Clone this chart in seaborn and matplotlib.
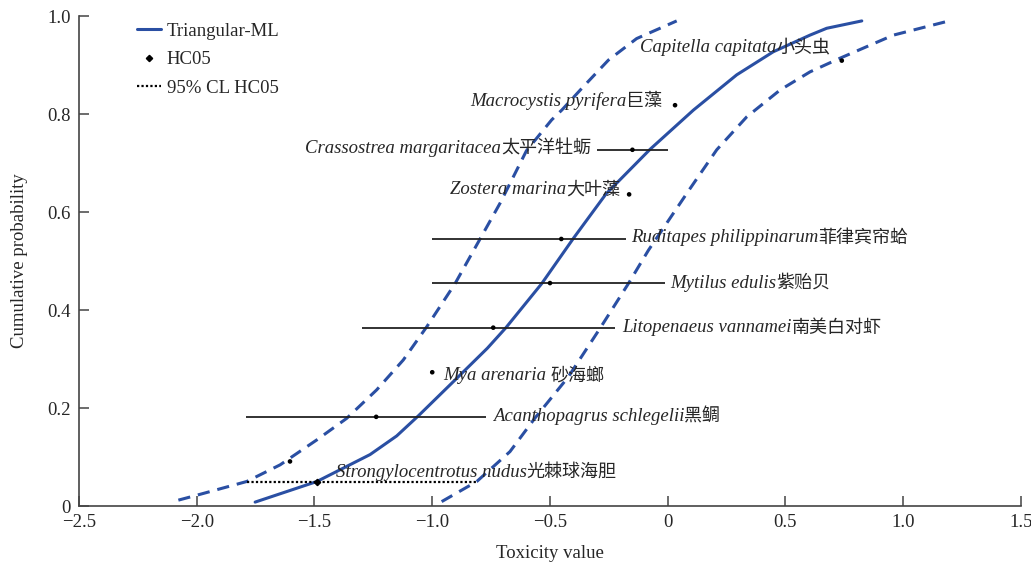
import pandas as pd
import seaborn as sns
import matplotlib.pyplot as plt

sns.set_style("ticks")
plt.rcParams["font.family"] = ["Liberation Serif", "Noto Sans CJK SC"]
plt.rcParams["font.size"] = 13.5

# --- data ---
species = [
    "Strongylocentrotus nudus", "Acanthopagrus schlegelii", "Mya arenaria ",
    "Litopenaeus vannamei", "Mytilus edulis", "Ruditapes philippinarum",
    "Zostera marina", "Crassostrea margaritacea", "Macrocystis pyrifera",
    "Capitella capitata",
]
species_cn = ["光棘球海胆", "黑鲷", "砂海螂", "南美白对虾", "紫贻贝", "菲律宾帘蛤",
              "大叶藻", "太平洋牡蛎", "巨藻", "小头虫"]
toxicity = [-1.604, -1.238, -1.000, -0.741, -0.500, -0.452, -0.164, -0.150, 0.031, 0.739]
cum_prob = [0.091, 0.182, 0.273, 0.364, 0.455, 0.545, 0.636, 0.727, 0.818, 0.909]
ci_low = [None, -1.791, None, -1.299, -1.000, -1.000, None, -0.300, None, None]
ci_high = [None, -0.772, None, -0.224, -0.011, -0.178, None, 0.000, None, None]

# fitted curve (Triangular-ML) and its confidence bands
fit_x = [-1.752, -1.490, -1.264, -1.151, -1.059, -0.910, -0.766, -0.687, -0.535,
         -0.401, -0.262, -0.075, 0.109, 0.293, 0.448, 0.604, 0.675, 0.824]
fit_y = [0.008, 0.050, 0.105, 0.143, 0.184, 0.254, 0.322, 0.364, 0.454,
         0.546, 0.637, 0.728, 0.808, 0.880, 0.927, 0.961, 0.975, 0.990]
lower_x = [-2.078, -2.000, -1.788, -1.646, -1.490, -1.363, -1.236, -1.123, -1.023,
           -0.903, -0.797, -0.712, -0.600, -0.493, -0.450, -0.358, -0.252, -0.132,
           0.038]
lower_y = [0.012, 0.022, 0.050, 0.084, 0.135, 0.179, 0.237, 0.298, 0.366,
           0.454, 0.545, 0.618, 0.725, 0.788, 0.808, 0.856, 0.910, 0.954,
           0.990]
upper_x = [-0.960, -0.811, -0.670, -0.563, -0.423, -0.287, -0.167, -0.082, 0.095,
           0.208, 0.335, 0.477, 0.604, 0.732, 0.958, 1.178]
upper_y = [0.009, 0.050, 0.111, 0.180, 0.263, 0.363, 0.454, 0.522, 0.648,
           0.727, 0.794, 0.849, 0.886, 0.914, 0.961, 0.988]

hc05_x, hc05_y = -1.490, 0.050
hc05_cl = [-1.788, -0.811]

# label anchors (left edge, vertical centre) in data units
label_pos = [(-1.409, 0.069), (-0.742, 0.182), (-0.954, 0.267), (-0.194, 0.364),
             (0.010, 0.455), (-0.156, 0.547), (-0.924, 0.645), (-1.540, 0.729),
             (-0.839, 0.827), (-0.118, 0.935)]

df = pd.DataFrame({"toxicity": toxicity, "cum_prob": cum_prob})
blue = "#2a4fa3"

fig = plt.figure(figsize=(10.31, 5.64), dpi=100)
ax = fig.add_axes([0.0766, 0.1028, 0.9137, 0.8688])

sns.lineplot(x=fit_x, y=fit_y, ax=ax, color=blue, lw=2.2, sort=False,
             estimator=None, label="Triangular-ML")
sns.lineplot(x=lower_x, y=lower_y, ax=ax, color=blue, lw=2.2, sort=False,
             estimator=None, linestyle=(0, (4, 2.6)))
sns.lineplot(x=upper_x, y=upper_y, ax=ax, color=blue, lw=2.2, sort=False,
             estimator=None, linestyle=(0, (4, 2.6)))

for lo, hi, y in zip(ci_low, ci_high, cum_prob):
    if lo is not None:
        ax.hlines(y, lo, hi, color="#222222", lw=1.3, zorder=2)

sns.scatterplot(data=df, x="toxicity", y="cum_prob", ax=ax, color="black",
                s=11, edgecolor="none", zorder=4)
ax.plot([hc05_x], [hc05_y], marker="D", ms=3.2, color="black", ls="none",
        label="HC05", zorder=5)
ax.plot(hc05_cl, [hc05_y, hc05_y], color="black", ls=(0, (1, 1)), lw=1.6,
        label="95% CL HC05", zorder=3)

ax.set_xlim(-2.5, 1.5)
ax.set_ylim(0, 1.0)

for (lx, ly), name, cn in zip(label_pos, species, species_cn):
    t = ax.text(lx, ly, name, style="italic", va="center", ha="left",
                fontsize=13.5, family=["Liberation Serif", "Noto Sans CJK SC"])
    # chinese part follows the italic latin name
    ax.annotate(cn, xy=(1, 0.5), xycoords=t, va="center", ha="left",
                fontsize=13, family=["Noto Sans CJK SC"])

ax.set_xticks([-2.5, -2.0, -1.5, -1.0, -0.5, 0, 0.5, 1.0, 1.5])
ax.set_xticklabels(["\u22122.5", "\u22122.0", "\u22121.5", "\u22121.0", "\u22120.5",
                    "0", "0.5", "1.0", "1.5"])
ax.set_yticks([0, 0.2, 0.4, 0.6, 0.8, 1.0])
ax.set_yticklabels(["0", "0.2", "0.4", "0.6", "0.8", "1.0"])
ax.tick_params(direction="in", length=7, width=1.1, color="#444444",
               labelsize=13.5, pad=6)
for side in ["top", "right"]:
    ax.spines[side].set_visible(False)
for side in ["left", "bottom"]:
    ax.spines[side].set_color("#444444")
    ax.spines[side].set_linewidth(1.2)

ax.set_xlabel("Toxicity value", fontsize=13.5, labelpad=9.5)
ax.set_ylabel("Cumulative probability", fontsize=13.5, labelpad=14)

handles, labels = ax.get_legend_handles_labels()
ax.legend(handles, labels, loc="upper left", bbox_to_anchor=(0.0435, 1.021),
          frameon=False, fontsize=13.5, handlelength=1.3, handletextpad=0.3,
          labelspacing=0.61)

fig.savefig("out.png", dpi=100)
